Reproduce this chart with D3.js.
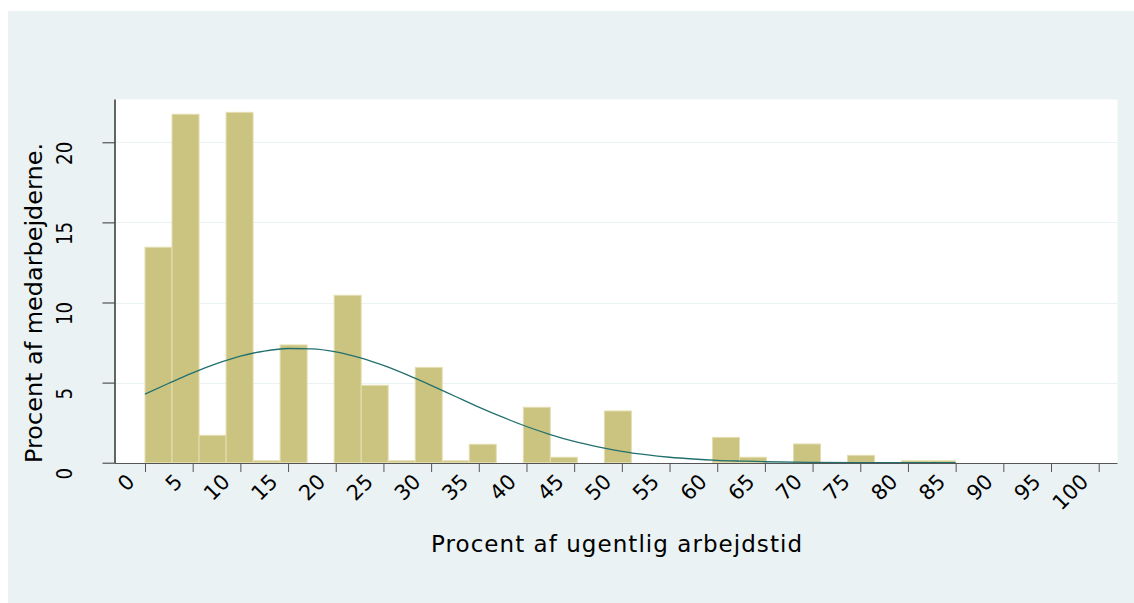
<!DOCTYPE html>
<html>
<head>
<meta charset="utf-8">
<script src="https://cdn.jsdelivr.net/npm/d3@7"></script>
<style>
  html, body { margin: 0; padding: 0; background: #ffffff; }
  svg { display: block; }
  text { font-family: "DejaVu Sans", Verdana, sans-serif; fill: #000; }
</style>
</head>
<body>
<svg id="chart" width="1134" height="603"></svg>
<script>
// ---------- data ----------
const binEdges = [0, 2.833, 5.667, 8.5, 11.333, 14.167, 17, 19.833, 22.667, 25.5,
  28.333, 31.167, 34, 36.833, 39.667, 42.5, 45.333, 48.167, 51, 53.833,
  56.667, 59.5, 62.333, 65.167, 68, 70.833, 73.667, 76.5, 79.333, 82.167, 85];
const binPercent = [13.45, 21.75, 1.71, 21.87, 0.12, 7.35, 0, 10.45, 4.83, 0.12,
  5.95, 0.12, 1.15, 0, 3.46, 0.34, 0, 3.23, 0, 0,
  0, 1.58, 0.34, 0, 1.17, 0, 0.46, 0, 0.12, 0.12];
const curveX = [0, 2.5, 5, 7.5, 10, 12.5, 15, 17.5, 20, 22.5, 25, 27.5, 30, 32.5, 35,
  37.5, 40, 42.5, 45, 47.5, 50, 52.5, 55, 57.5, 60, 62.5, 65, 70, 75, 80, 85];
const curveY = [4.28, 4.96, 5.61, 6.18, 6.65, 6.97, 7.13, 7.11, 6.92, 6.56, 6.07, 5.48, 4.83, 4.15, 3.47,
  2.84, 2.26, 1.76, 1.33, 0.99, 0.71, 0.50, 0.34, 0.23, 0.15, 0.10, 0.06, 0.02, 0.005, 0.001, 0];
const xTicks = [0, 5, 10, 15, 20, 25, 30, 35, 40, 45, 50, 55, 60, 65, 70, 75, 80, 85, 90, 95, 100];
const yTicks = [0, 5, 10, 15, 20];
const xTitle = "Procent af ugentlig arbejdstid";
const yTitle = "Procent af medarbejderne.";

// ---------- layout ----------
const svg = d3.select("#chart");
const panel = { x: 8, y: 11, w: 1126, h: 592 };
const plot = { left: 114.5, right: 1117.5, top: 99.5, bottom: 463 };

const x = d3.scaleLinear().domain([0, 100]).range([145, 1098.7]);
const y = d3.scaleLinear().domain([0, 20]).range([462.7, 142.3]);

// outer background
svg.append("rect").attr("x", panel.x).attr("y", panel.y)
  .attr("width", panel.w).attr("height", panel.h).attr("fill", "#eaf2f3");

// plot region
svg.append("rect").attr("x", plot.left).attr("y", plot.top)
  .attr("width", plot.right - plot.left).attr("height", plot.bottom - plot.top)
  .attr("fill", "#ffffff");

// gridlines
svg.append("g").selectAll("line").data(yTicks.filter(d => d > 0)).join("line")
  .attr("x1", plot.left).attr("x2", plot.right)
  .attr("y1", d => Math.round(y(d)) + 0.5).attr("y2", d => Math.round(y(d)) + 0.5)
  .attr("stroke", "#eaf2f3").attr("stroke-width", 1);

// bars
const bins = binPercent.map((v, i) => ({ x0: binEdges[i], x1: binEdges[i + 1], v }));
svg.append("g").selectAll("rect").data(bins.filter(d => d.v > 0)).join("rect")
  .attr("x", d => x(d.x0))
  .attr("width", d => x(d.x1) - x(d.x0))
  .attr("y", d => y(d.v))
  .attr("height", d => y(0) - y(d.v))
  .attr("fill", "#cbc480")
  .attr("stroke", "#e4deb0")
  .attr("stroke-width", 1);

// normal curve
const line = d3.line().x((d, i) => x(curveX[i])).y(d => y(d)).curve(d3.curveMonotoneX);
svg.append("path").datum(curveY).attr("d", line)
  .attr("fill", "none").attr("stroke", "#22706e").attr("stroke-width", 1.3);

// x axis
const xAxis = d3.axisBottom(x).tickValues(xTicks).tickSize(9).tickFormat("");
const gx = svg.append("g").attr("transform", `translate(0,${plot.bottom})`).call(xAxis);
gx.select(".domain").attr("d", `M${plot.left},0.5H${plot.right}`).attr("stroke", "#555").attr("stroke-width", 1.2);
gx.selectAll(".tick line").attr("stroke", "#555");
svg.append("g").selectAll("text").data(xTicks).join("text")
  .attr("transform", d => `translate(${x(d) - 14},${plot.bottom + 15}) rotate(-45)`)
  .attr("text-anchor", "end")
  .attr("dominant-baseline", "central")
  .attr("font-size", 21)
  .text(d => d);

// y axis
const yAxis = d3.axisLeft(y).tickValues(yTicks).tickSize(12).tickFormat("");
const gy = svg.append("g").attr("transform", `translate(${plot.left},0)`).call(yAxis);
gy.select(".domain").attr("d", `M0.5,${plot.top}V${plot.bottom}`).attr("stroke", "#111").attr("stroke-width", 1.3);
gy.selectAll(".tick line").attr("stroke", "#333");
svg.append("g").selectAll("text").data(yTicks).join("text")
  .attr("transform", d => `translate(71.5,${y(d) + 11}) rotate(-90)`)
  .attr("text-anchor", "middle")
  .attr("font-size", 21)
  .attr("textLength", d => String(d).length * 11.6)
  .attr("lengthAdjust", "spacingAndGlyphs")
  .text(d => d);

// titles
svg.append("text")
  .attr("x", 431).attr("y", 552)
  .attr("font-size", 23)
  .attr("textLength", 371).attr("lengthAdjust", "spacing")
  .text(xTitle);
svg.append("text")
  .attr("transform", "translate(42,463) rotate(-90)")
  .attr("text-anchor", "start")
  .attr("font-size", 23)
  .attr("textLength", 320).attr("lengthAdjust", "spacingAndGlyphs")
  .text(yTitle);
</script>
</body>
</html>
